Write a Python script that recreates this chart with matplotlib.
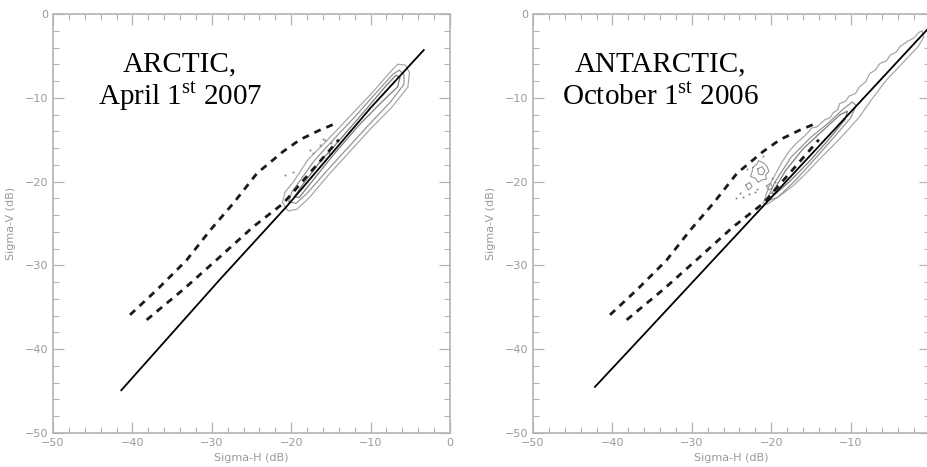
import matplotlib
matplotlib.use("Agg")
import matplotlib.pyplot as plt
from matplotlib.ticker import MultipleLocator

plt.rcParams['mathtext.fontset'] = 'custom'
plt.rcParams['mathtext.rm'] = 'Liberation Serif'

# model curves (dB), same for both hemispheres
upper_dash_h = [-40.3, -36.9, -33.2, -30.2, -27.3, -24.3, -21.0, -18.9, -16.5, -14.5]
upper_dash_v = [-35.9, -32.9, -29.4, -25.8, -22.6, -19.0, -16.4, -15.0, -13.9, -13.1]
lower_dash_h = [-38.2, -33.5, -29.0, -24.8, -21.0, -17.5, -14.0]
lower_dash_v = [-36.5, -32.8, -29.0, -25.4, -22.6, -18.8, -15.0]

# regression lines
arctic_line_h = [-41.4, -29.0, -20.6, -10.0, -3.3]
arctic_line_v = [-44.9, -31.7, -23.0, -11.2, -4.3]
antarctic_line_h = [-42.2, -35.5, -20.0, -9.8, 0.0]
antarctic_line_v = [-44.5, -37.7, -21.9, -11.5, -1.5]

x_ticks = [-50, -40, -30, -20, -10, 0]
y_ticks = [-50, -40, -30, -20, -10, 0]

# density contours (outer, middle, inner), closed outlines in (H, V)
arctic_contours = [
    [(-21.1, -22.5), (-20.8, -21.3), (-19.7, -20.0), (-17.9, -17.4), (-15.3, -14.9),
     (-12.9, -12.5), (-10.0, -9.6), (-7.5, -6.9), (-6.6, -6.0), (-5.6, -6.1),
     (-5.1, -7.0), (-5.3, -8.7), (-7.3, -11.1), (-9.9, -13.6), (-12.6, -16.4),
     (-15.3, -19.2), (-17.8, -22.0), (-19.3, -23.3), (-20.4, -23.5)],
    [(-20.3, -22.4), (-19.9, -21.2), (-18.9, -19.9), (-17.1, -17.5), (-14.6, -14.9),
     (-12.1, -12.4), (-9.4, -9.5), (-7.2, -7.2), (-6.4, -6.7), (-5.8, -7.2),
     (-5.8, -8.4), (-7.5, -10.5), (-10.2, -13.2), (-12.9, -16.0), (-15.5, -18.7),
     (-18.0, -21.4), (-19.4, -22.6)],
    [(-19.6, -21.8), (-18.5, -20.3), (-16.5, -17.8), (-13.5, -14.6), (-10.5, -11.3),
     (-8.0, -8.5), (-6.8, -7.3), (-6.3, -7.6), (-6.6, -8.7), (-8.7, -10.6),
     (-11.5, -13.3), (-14.5, -16.6), (-17.3, -19.9), (-19.0, -21.9)],
]
arctic_dots_h = [-20.8, -19.8, -17.6, -17.2, -16.4, -15.7, -15.3, -16.0, -15.0]
arctic_dots_v = [-19.2, -18.8, -16.2, -16.6, -15.6, -15.0, -16.6, -14.9, -15.4]

antarctic_contours = [
    [(-21.0, -22.6), (-20.3, -20.6), (-19.4, -19.0), (-18.6, -17.6), (-17.6, -16.2),
     (-16.8, -15.4), (-15.6, -14.4), (-14.9, -13.6), (-14.3, -13.5), (-13.2, -12.6),
     (-12.6, -12.4), (-12.2, -11.8), (-11.6, -11.4), (-11.4, -10.7), (-10.6, -10.4),
     (-10.2, -9.8), (-9.4, -9.5), (-8.9, -8.7), (-8.1, -8.1), (-7.6, -7.1),
     (-6.9, -6.7), (-6.3, -5.9), (-5.5, -5.6), (-5.0, -4.9), (-4.2, -4.5),
     (-3.8, -3.9), (-2.9, -3.3), (-2.1, -2.9), (-1.4, -2.2), (-1.0, -2.0),
     (-0.8, -2.8), (-1.5, -3.9), (-3.2, -5.6), (-5.5, -7.9), (-7.2, -10.0),
     (-8.9, -12.3), (-10.6, -14.1), (-12.3, -15.8), (-14.0, -17.4), (-15.6, -19.0),
     (-17.0, -20.3), (-18.5, -21.4), (-19.7, -22.2), (-20.5, -22.7)],
    [(-20.6, -22.3), (-19.5, -20.0), (-17.5, -17.1), (-15.0, -14.7), (-12.8, -13.0),
     (-11.0, -11.4), (-9.8, -10.5), (-9.3, -10.9), (-10.0, -12.4), (-12.0, -14.6),
     (-14.5, -17.3), (-17.0, -19.9), (-19.2, -21.9)],
    [(-19.9, -21.4), (-18.2, -18.7), (-16.0, -16.1), (-13.5, -13.9), (-11.3, -12.0),
     (-10.4, -11.6), (-10.7, -12.6), (-12.6, -14.8), (-15.2, -17.6), (-17.8, -20.1),
     (-19.5, -21.5)],
]
antarctic_blobs = [
    [(-22.3, -18.3), (-21.8, -17.9), (-21.6, -17.5), (-20.9, -17.8), (-20.5, -18.2),
     (-20.3, -18.8), (-20.7, -19.2), (-20.6, -19.7), (-21.2, -19.8), (-21.6, -20.1),
     (-22.0, -19.6), (-22.6, -19.4), (-22.4, -18.8)],
    [(-21.7, -18.5), (-21.2, -18.2), (-20.8, -18.7), (-21.1, -19.2), (-21.6, -19.1)],
    [(-23.2, -20.4), (-22.7, -20.1), (-22.4, -20.6), (-22.9, -21.0)],
    [(-20.6, -20.5), (-20.1, -20.2), (-19.8, -20.7), (-20.3, -21.0)],
]
antarctic_dots_h = [-24.4, -23.9, -23.5, -22.8, -22.1, -21.8, -19.9, -19.5, -23.0, -21.0]
antarctic_dots_v = [-22.0, -21.4, -21.8, -21.5, -21.2, -20.9, -19.6, -20.1, -18.5, -16.9]

panels = [
    ("ARCTIC,", r"April 1$^{\mathrm{st}}$ 2007", arctic_line_h, arctic_line_v,
     arctic_contours, [], arctic_dots_h, arctic_dots_v),
    ("ANTARCTIC,", r"October 1$^{\mathrm{st}}$ 2006", antarctic_line_h, antarctic_line_v,
     antarctic_contours, antarctic_blobs, antarctic_dots_h, antarctic_dots_v),
]

axis_grey = '#b4b4b4'
label_grey = '#9a9a9a'
contour_greys = ['#a8a8a8', '#959595', '#7c7c7c']

fig = plt.figure(figsize=(9.27, 4.67), dpi=100)
lefts = [53 / 927, 533 / 927]

for i, (left, (title1, title2, lh, lv, contours, blobs, dh, dv)) in enumerate(zip(lefts, panels)):
    ax = fig.add_axes([left, 34 / 467, 397 / 927, 419 / 467])
    ax.set_xlim(-50, 0)
    ax.set_ylim(-50, 0)

    for outline, col in zip(contours, contour_greys):
        xs = [p[0] for p in outline] + [outline[0][0]]
        ys = [p[1] for p in outline] + [outline[0][1]]
        ax.plot(xs, ys, color=col, lw=0.9)
    for outline in blobs:
        xs = [p[0] for p in outline] + [outline[0][0]]
        ys = [p[1] for p in outline] + [outline[0][1]]
        ax.plot(xs, ys, color='#8a8a8a', lw=0.7)
    ax.plot(dh, dv, ls='none', marker='s', ms=1.2, color='#777777', mec='none')

    ax.plot(upper_dash_h, upper_dash_v, color='#1a1a1a', lw=2.0, dashes=(2.5, 2.2))
    ax.plot(lower_dash_h, lower_dash_v, color='#1a1a1a', lw=2.0, dashes=(2.5, 2.2))
    ax.plot(lh, lv, color='black', lw=1.3)

    # the right panel runs off the page, its last x label is not shown
    xlabels = [str(t).replace('-', '\u2212') for t in x_ticks]
    if i == 1:
        xlabels[-1] = ''
    ax.set_xticks(x_ticks, xlabels)
    ax.set_yticks(y_ticks)
    ax.xaxis.set_minor_locator(MultipleLocator(2))
    ax.yaxis.set_minor_locator(MultipleLocator(2))
    ax.tick_params(which='both', direction='in', top=True, right=True,
                   color=axis_grey, labelcolor=label_grey, labelsize=8)
    ax.tick_params(which='major', length=8, width=0.9)
    ax.tick_params(which='minor', length=4, width=0.8)
    for sp in ax.spines.values():
        sp.set_color(axis_grey)
        sp.set_linewidth(1.2)
    ax.set_xlabel("Sigma-H (dB)", color=label_grey, fontsize=8, labelpad=4)
    ax.set_ylabel("Sigma-V (dB)", color=label_grey, fontsize=8, labelpad=6)

    ax.text(-34, -6.9, title1, ha='center', va='baseline', fontsize=21,
            family='Liberation Serif', color='black')
    ax.text(-34, -10.8, title2, ha='center', va='baseline', fontsize=21,
            family='Liberation Serif', color='black')

fig.savefig("out.png", dpi=100)
